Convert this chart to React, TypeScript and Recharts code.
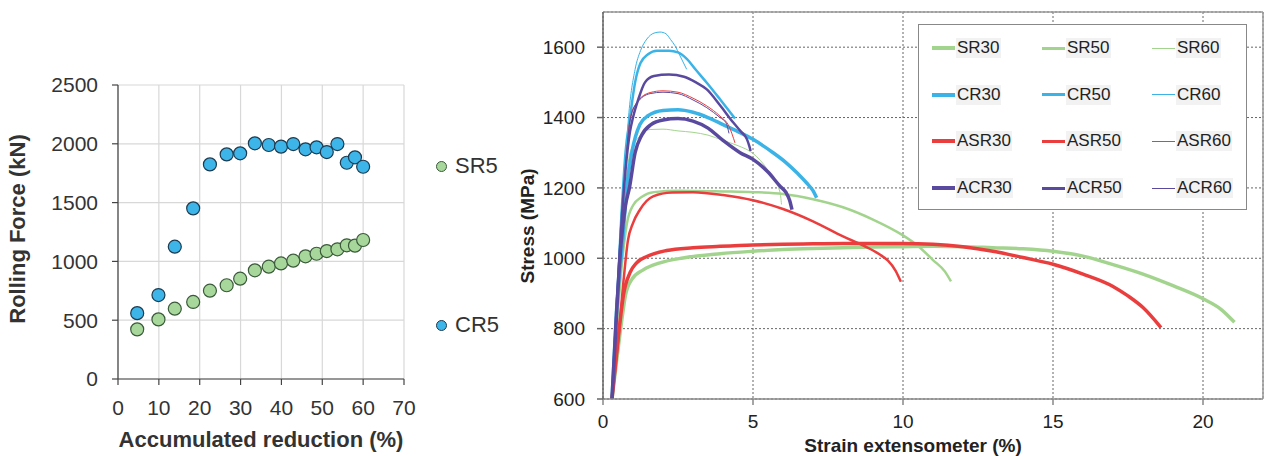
import {
    ScatterChart, Scatter, LineChart, Line, XAxis, YAxis, CartesianGrid, ReferenceLine, Label,
} from 'recharts';

// ---- left panel: rolling force vs accumulated reduction ----
const reduction = [4.7, 9.9, 13.9, 18.4, 22.5, 26.6, 29.9, 33.5, 36.9, 39.9, 42.9, 45.9, 48.6, 51.1, 53.7, 56.0, 58.0, 60.0];
const forceSR5 = [422, 507, 598, 655, 751, 797, 853, 924, 955, 983, 1006, 1043, 1065, 1088, 1103, 1137, 1134, 1182];
const forceCR5 = [560, 714, 1125, 1451, 1825, 1910, 1919, 2004, 1990, 1976, 1998, 1953, 1970, 1930, 1998, 1839, 1885, 1805];
const forceTicks = [0, 500, 1000, 1500, 2000, 2500];
const reductionTicks = [0, 10, 20, 30, 40, 50, 60, 70];

// ---- right panel: stress-strain curves [strain %, stress MPa] ----
const sr30 = [[0.3, 600], [0.5, 740], [0.66, 845], [0.75, 895], [0.96, 940], [1.34, 967], [1.9, 987], [2.67, 1001], [3.9, 1013], [5, 1020], [6, 1025], [7, 1028], [8, 1030], [9, 1032], [10, 1033], [11, 1034], [12, 1033], [13, 1030], [14, 1027], [15, 1020], [16, 1006], [17, 982], [18, 955], [19, 922], [20, 885], [20.6, 855], [21.05, 818]];
const sr50 = [[0.3, 600], [0.5, 850], [0.65, 1000], [0.8, 1100], [1.0, 1150], [1.3, 1175], [1.7, 1188], [2.5, 1192], [4, 1190], [5, 1188], [6, 1183], [7, 1168], [8, 1145], [9, 1110], [10, 1065], [10.5, 1035], [11, 995], [11.4, 962], [11.6, 934]];
const sr60 = [[0.3, 600], [0.45, 820], [0.6, 1030], [0.75, 1200], [0.9, 1300], [1.2, 1345], [1.57, 1366], [2.0, 1367], [2.5, 1362], [3.0, 1358], [3.5, 1350], [4.0, 1335], [4.5, 1320], [5.0, 1298], [5.5, 1250], [5.9, 1188], [5.95, 1153]];
const cr30 = [[0.3, 600], [0.45, 850], [0.66, 1053], [0.79, 1200], [0.96, 1300], [1.23, 1380], [1.5, 1405], [2.0, 1420], [2.5, 1422], [3, 1415], [3.5, 1400], [4, 1380], [4.5, 1360], [5, 1338], [5.67, 1300], [6.1, 1272], [6.5, 1240], [6.79, 1214], [7.0, 1192], [7.12, 1172]];
const cr50 = [[0.3, 600], [0.45, 850], [0.6, 1100], [0.75, 1300], [0.9, 1400], [1.07, 1500], [1.25, 1555], [1.5, 1580], [1.8, 1590], [2.2, 1590], [2.5, 1585], [2.8, 1566], [3.1, 1535], [3.46, 1499], [3.9, 1452], [4.4, 1397]];
const cr60 = [[0.3, 600], [0.45, 860], [0.6, 1120], [0.73, 1250], [0.85, 1400], [1.07, 1537], [1.25, 1590], [1.46, 1623], [1.7, 1640], [1.9, 1643], [2.1, 1638], [2.25, 1622], [2.4, 1604], [2.57, 1575], [2.79, 1537]];
const asr30 = [[0.3, 600], [0.45, 726], [0.59, 836], [0.68, 895], [0.9, 959], [1.12, 987], [1.46, 1005], [2.12, 1022], [3, 1030], [3.9, 1034], [5, 1038], [6, 1040], [7, 1041], [8, 1042], [9, 1042], [10, 1042], [11, 1040], [12, 1033], [13, 1020], [14, 1002], [15, 983], [16, 955], [17, 920], [17.5, 893], [18, 860], [18.6, 803]];
const asr50 = [[0.3, 600], [0.5, 760], [0.7, 950], [0.83, 1050], [1.0, 1100], [1.23, 1138], [1.67, 1176], [2.3, 1187], [3, 1188], [4, 1180], [5, 1165], [6, 1140], [7, 1105], [8, 1062], [8.7, 1035], [9.2, 1012], [9.5, 993], [9.75, 965], [9.93, 933]];
const asr60 = [[0.3, 600], [0.45, 830], [0.6, 1050], [0.75, 1250], [0.9, 1395], [1.12, 1442], [1.57, 1471], [2.0, 1476], [2.5, 1472], [3.0, 1455], [3.46, 1433], [3.9, 1404], [4.2, 1375], [4.4, 1328]];
const acr30 = [[0.3, 600], [0.45, 840], [0.6, 1040], [0.75, 1150], [0.88, 1200], [1.07, 1300], [1.29, 1350], [1.6, 1380], [2.0, 1393], [2.5, 1397], [3.0, 1390], [3.5, 1370], [4.0, 1335], [4.57, 1300], [5.0, 1281], [5.5, 1245], [5.9, 1205], [6.1, 1187], [6.22, 1165], [6.3, 1138]];
const acr50 = [[0.3, 600], [0.45, 850], [0.6, 1080], [0.75, 1250], [0.9, 1360], [1.0, 1400], [1.17, 1450], [1.4, 1500], [1.7, 1518], [2.2, 1522], [2.7, 1516], [3.1, 1500], [3.46, 1480], [3.9, 1435], [4.35, 1385], [4.6, 1360], [4.8, 1338], [4.88, 1318], [4.92, 1305]];
const acr60 = [[0.3, 600], [0.45, 840], [0.6, 1060], [0.75, 1260], [0.9, 1390], [1.12, 1440], [1.57, 1468], [2.0, 1472], [2.5, 1468], [3.0, 1450], [3.46, 1428], [3.9, 1400], [4.1, 1385], [4.2, 1355]];
const stressTicks = [600, 800, 1000, 1200, 1400, 1600];
const strainTicks = [0, 5, 10, 15, 20];

const GREEN = '#a3d48e';
const BLUE = '#3bb3e6';
const RED = '#ea3e3e';
const PURPLE = '#5a4a9f';
const FONT = '"Liberation Sans", Arial, sans-serif';

const toXY = (pts: number[][]) => pts.map(([x, y]) => ({ x, y }));
const zipXY = (xs: number[], ys: number[]) => xs.map((x, i) => ({ x, y: ys[i] }));

// legend order is row by row
const curves = [
    { name: 'SR30', pts: sr30, color: GREEN, width: 4 },
    { name: 'SR50', pts: sr50, color: GREEN, width: 3 },
    { name: 'SR60', pts: sr60, color: GREEN, width: 1 },
    { name: 'CR30', pts: cr30, color: BLUE, width: 4 },
    { name: 'CR50', pts: cr50, color: BLUE, width: 3 },
    { name: 'CR60', pts: cr60, color: BLUE, width: 1 },
    { name: 'ASR30', pts: asr30, color: RED, width: 4 },
    { name: 'ASR50', pts: asr50, color: RED, width: 3 },
    { name: 'ASR60', pts: asr60, color: RED, width: 1 },
    { name: 'ACR30', pts: acr30, color: PURPLE, width: 4 },
    { name: 'ACR50', pts: acr50, color: PURPLE, width: 3 },
    { name: 'ACR60', pts: acr60, color: PURPLE, width: 1 },
];

const dot = (fill: string, stroke: string) => (p: any) => (
    <circle cx={p.cx} cy={p.cy} r={6.5} fill={fill} stroke={stroke} strokeWidth={1.2} />
);

function RollingForceChart() {
    const tickStyle = { fontSize: 21, fill: '#333', fontFamily: FONT };
    return (
        <ScatterChart width={500} height={456} margin={{ top: 85, right: 96, bottom: 0, left: 0 }}>
            <CartesianGrid stroke="#d8d8d8" strokeWidth={1.2} />
            <XAxis
                type="number" dataKey="x" domain={[0, 70]} ticks={reductionTicks} interval={0}
                height={77} tickSize={6} tickMargin={15} tick={tickStyle}
                stroke="#444" strokeWidth={1.2}
            >
                <Label content={(p: any) => (
                    <text x={p.viewBox.x + p.viewBox.width / 2} y={447} textAnchor="middle"
                        fontSize={22} fontWeight="bold" fill="#333" fontFamily={FONT}>
                        Accumulated reduction (%)
                    </text>
                )} />
            </XAxis>
            <YAxis
                type="number" dataKey="y" domain={[0, 2500]} ticks={forceTicks} interval={0}
                width={118} tickSize={6} tickMargin={14} tick={tickStyle}
                stroke="#444" strokeWidth={1.2}
            >
                <Label content={() => (
                    <text x={17} y={229} transform="rotate(-90 17 229)" textAnchor="middle"
                        dominantBaseline="central" fontSize={22} fontWeight="bold" fill="#333" fontFamily={FONT}>
                        Rolling Force (kN)
                    </text>
                )} />
            </YAxis>
            <Scatter name="SR5" data={zipXY(reduction, forceSR5)} shape={dot('#a8d79b', '#3a5a3a')} isAnimationActive={false} />
            <Scatter name="CR5" data={zipXY(reduction, forceCR5)} shape={dot('#3db5e8', '#1d3b50')} isAnimationActive={false} />
        </ScatterChart>
    );
}

function StressStrainChart() {
    const tickStyle = { fontSize: 19, fill: '#222', fontFamily: FONT };
    return (
        <LineChart width={765} height={456} margin={{ top: 12, right: 2, bottom: 0, left: 0 }}>
            <CartesianGrid stroke="#666" strokeDasharray="2 2" />
            <XAxis
                type="number" dataKey="x" domain={[0, 22]} ticks={strainTicks} interval={0}
                allowDataOverflow height={57} tickSize={6} tickMargin={10} tick={tickStyle}
                stroke="#888" strokeWidth={1.5}
            >
                <Label content={() => (
                    <text x={413} y={452} textAnchor="middle" fontSize={19} fontWeight="bold"
                        fill="#222" fontFamily={FONT}>
                        Strain extensometer (%)
                    </text>
                )} />
            </XAxis>
            <YAxis
                type="number" domain={[600, 1700]} ticks={stressTicks} interval={0}
                allowDataOverflow width={103} tickSize={6} tickMargin={12} tick={tickStyle}
                stroke="#666" strokeWidth={1.5}
            >
                <Label content={() => (
                    <text x={27} y={226} transform="rotate(-90 27 226)" textAnchor="middle"
                        dominantBaseline="central" fontSize={19} fontWeight="bold" fill="#222" fontFamily={FONT}>
                        Stress (MPa)
                    </text>
                )} />
            </YAxis>
            <ReferenceLine y={1700} stroke="#999" strokeWidth={1.5} />
            <ReferenceLine x={22} stroke="#999" strokeWidth={1.5} />
            {curves.map(c => (
                <Line
                    key={c.name}
                    name={c.name}
                    data={toXY(c.pts)}
                    dataKey="y"
                    type="monotone"
                    stroke={c.color}
                    strokeWidth={c.width === 4 ? 3.5 : c.width === 3 ? 2.5 : 1}
                    dot={false}
                    activeDot={false}
                    isAnimationActive={false}
                />
            ))}
        </LineChart>
    );
}

function CurveLegend() {
    return (
        <div style={{
            position: 'absolute', left: 918, top: 24, width: 327, height: 184,
            background: '#fff', border: '1.5px solid #888', fontFamily: FONT,
        }}>
            {curves.map((c, i) => {
                const row = Math.floor(i / 3);
                const col = i % 3;
                return (
                    <div key={c.name} style={{
                        position: 'absolute', left: 13 + col * 110, top: 23 + row * 46.7 - 11,
                        height: 22, display: 'flex', alignItems: 'center',
                    }}>
                        <span style={{ width: 23, height: c.width, background: c.color, display: 'inline-block' }} />
                        <span style={{ fontSize: 17, color: '#222', background: '#f2f2f2', marginLeft: 1, padding: '0 1px' }}>
                            {c.name}
                        </span>
                    </div>
                );
            })}
        </div>
    );
}

function ForceLegend() {
    const items = [
        { name: 'SR5', fill: '#a8d79b', stroke: '#3a5a3a', y: 166 },
        { name: 'CR5', fill: '#3db5e8', stroke: '#1d3b50', y: 325 },
    ];
    return (
        <>
            {items.map(it => (
                <div key={it.name} style={{
                    position: 'absolute', left: 436, top: it.y - 13, height: 26,
                    display: 'flex', alignItems: 'center', fontFamily: FONT,
                }}>
                    <span style={{
                        width: 9, height: 9, borderRadius: '50%', background: it.fill,
                        border: `1.2px solid ${it.stroke}`, display: 'inline-block',
                    }} />
                    <span style={{ fontSize: 22, color: '#333', marginLeft: 8 }}>{it.name}</span>
                </div>
            ))}
        </>
    );
}

export default function App() {
    return (
        <div style={{ position: 'absolute', left: 0, top: 0, width: 1265, height: 456, background: '#fff', overflow: 'hidden' }}>
            <div style={{ position: 'absolute', left: 0, top: 0 }}>
                <RollingForceChart />
            </div>
            <ForceLegend />
            <div style={{ position: 'absolute', left: 500, top: 0 }}>
                <StressStrainChart />
            </div>
            <CurveLegend />
        </div>
    );
}
